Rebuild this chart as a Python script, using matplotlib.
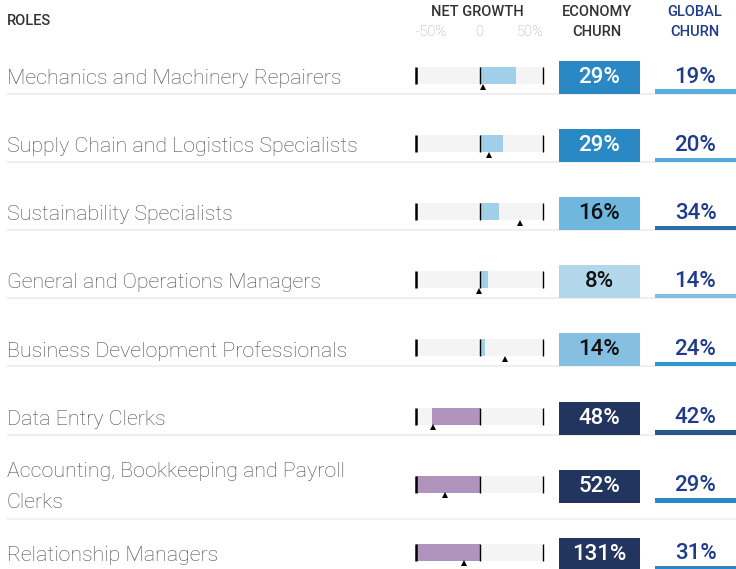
import matplotlib
matplotlib.use("Agg")
import matplotlib.pyplot as plt
import numpy as np

plt.rcParams['font.family'] = ['Roboto', 'DejaVu Sans']

roles = ["Mechanics and Machinery Repairers",
         "Supply Chain and Logistics Specialists",
         "Sustainability Specialists",
         "General and Operations Managers",
         "Business Development Professionals",
         "Data Entry Clerks",
         "Accounting, Bookkeeping and Payroll\nClerks",
         "Relationship Managers"]
econ_growth = [28.8, 18.6, 15.4, 6.6, 4.5, -37, -50, -50]
global_growth = [3.1, 7.6, 31.9, -0.5, 20, -36.8, -27.4, -12.5]
econ_churn = [29, 29, 16, 8, 14, 48, 52, 131]
global_churn = [19, 20, 34, 14, 24, 42, 29, 31]
growth_ticks = [-50, 0, 50]
growth_ticklabels = ["-50%", "0", "50%"]

box_colors = ['#2a88c4', '#2a88c4', '#6fb7df', '#b3d7ea', '#85c0e3',
              '#22355f', '#22355f', '#22355f']
box_text = ['white', 'white', '#111111', '#111111', '#111111',
            'white', 'white', 'white']
line_colors = ['#5aaedd', '#55aadb', '#2a6fa6', '#80bfe3', '#2f97d4',
               '#27588a', '#2a88c4', '#2b86c2']
navy = '#1f3b8c'

W, H = 736, 569
fig = plt.figure(figsize=(W / 100, H / 100), dpi=100)

# main layout axes in pixel units
ax = fig.add_axes([0, 0, 1, 1])
ax.set_xlim(0, W)
ax.set_ylim(H, 0)
ax.axis('off')

rows = 75.5 + 68.1 * np.arange(len(roles))
n_lines = [r.count("\n") + 1 for r in roles]
sep = rows + np.where(np.array(n_lines) > 1, 35, 18.5)

ax.hlines(sep, 7, W, color='#efefef', lw=1.5, zorder=0)

for y, lab in zip(rows, roles):
    ax.text(7, y + 3, lab, va='center', ha='left', fontsize=15.4,
            fontweight='light', color='#4a4a4a', linespacing=1.85)

# economy churn boxes
ax.barh(rows + 2, 81, left=559, height=33, color=box_colors, zorder=2)
for y, v, c in zip(rows, econ_churn, box_text):
    ax.text(599.5, y + 2, f"{v}%", ha='center', va='center',
            fontsize=16, fontweight='medium', color=c, zorder=3)

# global churn
ax.barh(rows + 16.2, 81, left=655, height=4.6, color=line_colors, zorder=2)
for y, v in zip(rows, global_churn):
    ax.text(695.5, y + 1.5, f"{v}%", ha='center', va='center',
            fontsize=16, fontweight='medium', color=navy, zorder=3)

# headers
hdr = 10.5
ax.text(7, 25, "ROLES", ha='left', va='baseline', fontsize=hdr,
        fontweight='medium', color='#333333')
ax.text(597, 15.7, "ECONOMY", ha='center', va='baseline', fontsize=hdr,
        fontweight='medium', color='#333333')
ax.text(597, 36, "CHURN", ha='center', va='baseline', fontsize=hdr,
        fontweight='medium', color='#333333')
ax.text(694.5, 15.7, "GLOBAL", ha='center', va='baseline', fontsize=hdr,
        fontweight='medium', color=navy)
ax.text(694.5, 36, "CHURN", ha='center', va='baseline', fontsize=hdr,
        fontweight='medium', color=navy)

# net growth column
ax_ng = fig.add_axes([415.7 / W, 0, 127.6 / W, 1])
ax_ng.set_xlim(-50, 50)
ax_ng.set_ylim(H, 0)
ax_ng.axis('off')
ax_ng.patch.set_alpha(0)

bar_h = 17
ax_ng.barh(rows, 100, left=-50, height=bar_h, color='#f4f4f4', zorder=1)
growth_colors = ['#a2cfe8' if g >= 0 else '#b094bd' for g in econ_growth]
ax_ng.barh(rows, econ_growth, height=bar_h, color=growth_colors, zorder=2)
for t, lw in zip(growth_ticks, [1.8, 1.0, 1.0]):
    ax_ng.vlines([t] * len(rows), rows - bar_h / 2, rows + bar_h / 2,
                 color='black', lw=lw, zorder=3, clip_on=False)
ax_ng.plot(global_growth, rows + 11, '^', color='black', ms=5, mew=0,
           zorder=4, clip_on=False)

ax_ng.text(-2, 15.7, "NET GROWTH", ha='center', va='baseline', fontsize=hdr,
           fontweight='medium', color='#333333')
for t, lab, ha in zip(growth_ticks, growth_ticklabels, ['left', 'center', 'right']):
    ax_ng.text(t, 36, lab, ha=ha, va='baseline', fontsize=10.5,
               color='#aaaaaa', fontweight='light')

fig.savefig("out.png", dpi=100)
